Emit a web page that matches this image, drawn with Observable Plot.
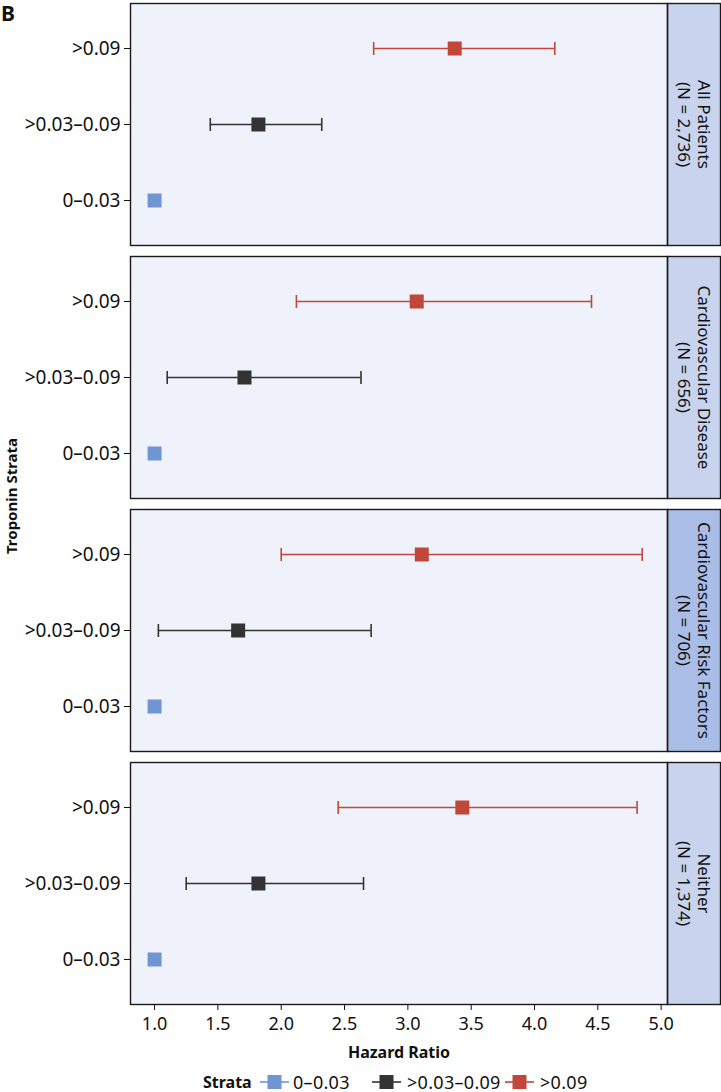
<!DOCTYPE html>
<html><head><meta charset="utf-8">
<script src="https://cdn.jsdelivr.net/npm/d3@7"></script>
<script src="https://cdn.jsdelivr.net/npm/@observablehq/plot@0.6"></script>
<style>
body{margin:0;background:#fff;font-family:"Noto Sans",sans-serif;color:#111;}
#wrap{position:relative;width:721px;}
#B{position:absolute;left:1px;top:1px;font:bold 21px "Noto Sans",sans-serif;line-height:24px;}
#ylab{position:absolute;left:11px;top:496px;transform:translate(-50%,-50%) rotate(-90deg);font:bold 15px "Noto Sans",sans-serif;white-space:nowrap;}
#legend{position:relative;height:26px;margin-top:3px;font-size:18px;letter-spacing:0.3px;}
#legend > *{position:absolute;top:0;line-height:26px;white-space:nowrap;}
#legend svg{top:5px;}
</style></head><body>
<div id="wrap"><div id="chart"></div><div id="B">B</div><div id="ylab">Troponin Strata</div></div>
<div id="legend"></div>
<script>
const panels = ["All Patients", "Cardiovascular Disease", "Cardiovascular Risk Factors", "Neither"];
const panelN = ["(N = 2,736)", "(N = 656)", "(N = 706)", "(N = 1,374)"];
const strata = [">0.09", ">0.03–0.09", "0–0.03"];
const legendStrata = ["0–0.03", ">0.03–0.09", ">0.09"];
const legendColors = ["#6f95d2", "#333333", "#c0473a"];
const hazard = [[3.37, 1.82, 1.0], [3.07, 1.71, 1.0], [3.11, 1.66, 1.0], [3.43, 1.82, 1.0]];
const lower  = [[2.73, 1.44, null], [2.12, 1.10, null], [2.00, 1.03, null], [2.45, 1.25, null]];
const upper  = [[4.16, 2.32, null], [4.45, 2.63, null], [4.85, 2.71, null], [4.81, 2.65, null]];
const xTicks = [1.0, 1.5, 2.0, 2.5, 3.0, 3.5, 4.0, 4.5, 5.0];

const rows = [];
panels.forEach((p, i) => strata.forEach((s, j) => rows.push({panel: p, stratum: s, hr: hazard[i][j], lo: lower[i][j], hi: upper[i][j]})));
const ci = rows.filter(d => d.lo != null);
const nOf = p => panelN[panels.indexOf(p)];

const cap = {draw(ctx, size) { const h = Math.sqrt(size / Math.PI); ctx.moveTo(0, -h); ctx.lineTo(0, h); }};
const stripFill = "#c8d4ee";
const plotW = 721 - 130 - 54;

const plot = Plot.plot({
  width: 721, height: 1066,
  marginLeft: 130, marginRight: 54, marginTop: 2, marginBottom: 62,
  style: {fontFamily: "Noto Sans, sans-serif", fontSize: "16px", color: "#111", background: "#fff"},
  x: {domain: [0.81, 5.05]},
  y: {domain: strata, type: "point", padding: 0.59},
  fy: {domain: panels, paddingInner: 0.045, paddingOuter: 0},
  color: {domain: legendStrata, range: legendColors},
  marks: [
    Plot.frame({fill: "#eff2fa"}),
    Plot.frame({fill: stripFill, insetLeft: plotW, insetRight: -53}),
    Plot.ruleY(ci, {fy: "panel", y: "stratum", x1: "lo", x2: "hi", stroke: "stratum", strokeWidth: 1.6}),
    Plot.dot(ci, {fy: "panel", y: "stratum", x: "lo", stroke: "stratum", fill: "none", symbol: cap, r: 6.5, strokeWidth: 1.6}),
    Plot.dot(ci, {fy: "panel", y: "stratum", x: "hi", stroke: "stratum", fill: "none", symbol: cap, r: 6.5, strokeWidth: 1.6}),
    Plot.dot(rows, {fy: "panel", y: "stratum", x: "hr", fill: "stratum", symbol: "square", r: 7.9}),
    Plot.frame({stroke: "#1a1a1a", strokeWidth: 1.4}),
    Plot.frame({stroke: "#1a1a1a", strokeWidth: 1.4, insetLeft: plotW, insetRight: -53}),
    Plot.axisY({tickSize: 6, tickPadding: 4, fontSize: 19, label: null}),
    Plot.axisX({ticks: xTicks, tickFormat: d3.format(".1f"), tickSize: 6, tickPadding: 7, fontSize: 18,
      label: "Hazard Ratio", labelAnchor: "center", labelArrow: "none", labelOffset: 53}),
    Plot.axisFy({anchor: "right", rotate: 90, textAnchor: "middle", tickSize: 0, tickPadding: 0, dx: 35.5, fontSize: 17, label: null}),
    Plot.axisFy({anchor: "right", rotate: 90, textAnchor: "middle", tickSize: 0, tickPadding: 0, dx: 15.5, fontSize: 17, label: null, tickFormat: nOf})
  ]
});
document.getElementById("chart").appendChild(plot);
// darker strip for the third panel
const strips = plot.querySelectorAll(`[fill="${stripFill}"]`);
if (strips.length >= 3) strips[2].setAttribute("fill", "#aabde7");
// bold axis title
plot.querySelectorAll("text").forEach(t => { if (t.textContent.trim() === "Hazard Ratio") { t.setAttribute("font-weight", "bold"); t.setAttribute("font-size", 16); } });

// legend (left offsets follow the reference's irregular spacing)
const lg = d3.select("#legend");
const legendLeft = {title: 203, symbols: [260, 372, 505], labels: [293, 407, 540]};
lg.append("b").text("Strata").style("font-size", "16px").style("letter-spacing", "0").style("left", legendLeft.title + "px");
legendStrata.forEach((s, i) => {
  const sv = lg.append("svg").attr("width", 29).attr("height", 16).style("left", legendLeft.symbols[i] + "px");
  sv.append("line").attr("x1", 0).attr("x2", 29).attr("y1", 8).attr("y2", 8).attr("stroke", legendColors[i]).attr("stroke-width", 1.6);
  sv.append("rect").attr("x", 7.5).attr("y", 1).attr("width", 14).attr("height", 14).attr("fill", legendColors[i]);
  lg.append("span").text(s).style("left", legendLeft.labels[i] + "px");
});
</script>
</body></html>
